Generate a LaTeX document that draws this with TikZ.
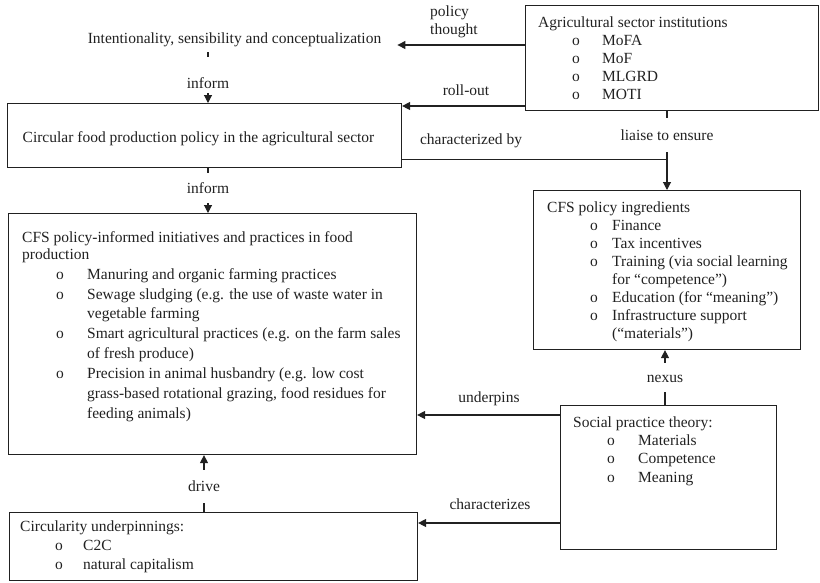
\documentclass[tikz,border=0pt]{standalone}
\usepackage{fontspec}
\setmainfont{Liberation Serif}
\usetikzlibrary{arrows.meta,calc}
\definecolor{ink}{gray}{0.13}
% bullet line: indent, gap from bullet to text, text
\newcommand\itemo[3]{\hspace*{#1}\makebox[#2][l]{o}#3}
\newcommand\firststrut{\rule{0pt}{12pt}}
\begin{document}
\begin{tikzpicture}[x=1pt,y=-1pt,
  box/.style={draw=ink, line width=1.1pt, inner sep=0pt, anchor=north west},
  body/.style={inner sep=0pt, anchor=north west, align=left, text=ink,
               font=\fontsize{15.5}{18}\selectfont},
  tag/.style={inner sep=0pt, text=ink, font=\fontsize{15.5}{18}\selectfont},
  link/.style={draw=ink, line width=1.1pt},
  arrow/.style={link, -{Triangle[length=8pt,width=8pt]}}]
\useasboundingbox (0,0) rectangle (820,582);

% ---- boxes ----
\node[box, minimum width=293pt, minimum height=105pt] (agri) at (525,5) {};
\node[body] (agriT) at (538,15) {\firststrut Agricultural sector institutions\\
  \itemo{34pt}{30pt}{MoFA}\\
  \itemo{34pt}{30pt}{MoF}\\
  \itemo{34pt}{30pt}{MLGRD}\\
  \itemo{34pt}{30pt}{MOTI}};

\node[tag, anchor=base, text depth=9pt] (int) at (234.5,43)
  {Intentionality, sensibility and conceptualization};

\node[box, minimum width=394pt, minimum height=64pt] (circ) at (7,103) {};
\node[tag, anchor=base] (circT) at (198.5,142)
  {Circular food production policy in the agricultural sector};

\node[box, minimum width=408pt, minimum height=241pt] (cfs) at (8,213) {};
\node[body, font=\fontsize{15.5}{19.9}\selectfont] (cfsT) at (22,230)
  {\firststrut CFS policy-informed initiatives and practices in food\\[-2.9pt]
  production\\
  \itemo{34pt}{31pt}{Manuring and organic farming practices}\\
  \itemo{34pt}{31pt}{Sewage sludging (e.g. the use of waste water in}\\
  \hspace*{65pt}vegetable farming\\
  \itemo{34pt}{31pt}{Smart agricultural practices (e.g. on the farm sales}\\
  \hspace*{65pt}of fresh produce)\\
  \itemo{34pt}{31pt}{Precision in animal husbandry (e.g. low cost}\\
  \hspace*{65pt}grass-based rotational grazing, food residues for\\
  \hspace*{65pt}feeding animals)};

\node[box, minimum width=267pt, minimum height=159pt] (ingr) at (533,190) {};
\node[body] (ingrT) at (547,200) {\firststrut CFS policy ingredients\\
  \itemo{43pt}{22pt}{Finance}\\
  \itemo{43pt}{22pt}{Tax incentives}\\
  \itemo{43pt}{22pt}{Training (via social learning}\\
  \hspace*{65pt}for “competence”)\\
  \itemo{43pt}{22pt}{Education (for “meaning”)}\\
  \itemo{43pt}{22pt}{Infrastructure support}\\
  \hspace*{65pt}(“materials”)};

\node[box, minimum width=216pt, minimum height=144pt] (soc) at (560,405) {};
\node[body, font=\fontsize{15.5}{18.3}\selectfont] (socT) at (573,415)
  {\firststrut Social practice theory:\\
  \itemo{34pt}{31pt}{Materials}\\
  \itemo{34pt}{31pt}{Competence}\\
  \itemo{34pt}{31pt}{Meaning}};

\node[box, minimum width=408pt, minimum height=68pt] (circu) at (9,512) {};
\node[body, font=\fontsize{15.5}{19}\selectfont] (circuT) at (20,519)
  {\firststrut Circularity underpinnings:\\
  \itemo{35pt}{28pt}{C2C}\\
  \itemo{35pt}{28pt}{natural capitalism}};

% ---- connector labels ----
\node[tag, anchor=north west, align=left] (pol) at (430,4) {\firststrut policy\\thought};
\node[tag, anchor=base] (roll) at (466,95) {roll-out};
\node[tag, anchor=base] (char) at (471,144) {characterized by};
\node[tag, anchor=base, text height=22pt, text depth=12pt] (liaise) at (667,140) {liaise to ensure};
\node[tag, anchor=base, text height=31pt, text depth=5pt] (inf1) at (208,88) {inform};
\node[tag, anchor=base, text height=20pt, text depth=10pt] (inf2) at (208,193) {inform};
\node[tag, anchor=base, text height=21pt, text depth=12pt] (drive) at (204,491) {drive};
\node[tag, anchor=base, text height=19pt, text depth=10pt] (nexus) at (665,382) {nexus};
\node[tag, anchor=base] (under) at (489,402) {underpins};
\node[tag, anchor=base] (chz) at (490,509) {characterizes};

% ---- connectors ----
\coordinate (polTip) at ($(int.base east)+(16,2)$);
\draw[arrow] (agri.west |- polTip) -- (polTip);

\coordinate (rollTip) at ($(circ.north east)+(0,3)$);
\draw[arrow] (agri.west |- rollTip) -- (rollTip);

\draw[link] (inf1.north |- int.south) -- (inf1.north);
\draw[arrow] (inf1.south) -- (inf1.south |- circ.north);

\draw[link] (inf2.north |- circ.south) -- (inf2.north);
\draw[arrow] (inf2.south) -- (inf2.south |- cfs.north);

\draw[link] (liaise.north |- agri.south) -- (liaise.north);
\draw[arrow] (liaise.south) -- (liaise.south |- ingr.north);

\coordinate (charStart) at ($(circ.south east)+(0,-9)$);
\draw[link] (charStart) -- (charStart -| liaise.south);

\draw[link] (nexus.south |- soc.north) -- (nexus.south);
\draw[arrow] (nexus.north) -- (nexus.north |- ingr.south);

\coordinate (underStart) at ($(soc.north west)+(0,10)$);
\draw[arrow] (underStart) -- (underStart -| cfs.east);

\coordinate (chzStart) at ($(soc.north west)+(0,118)$);
\draw[arrow] (chzStart) -- (chzStart -| circu.east);

\draw[link] (drive.south |- circu.north) -- (drive.south);
\draw[arrow] (drive.north) -- (drive.north |- cfs.south);
\end{tikzpicture}
\end{document}
